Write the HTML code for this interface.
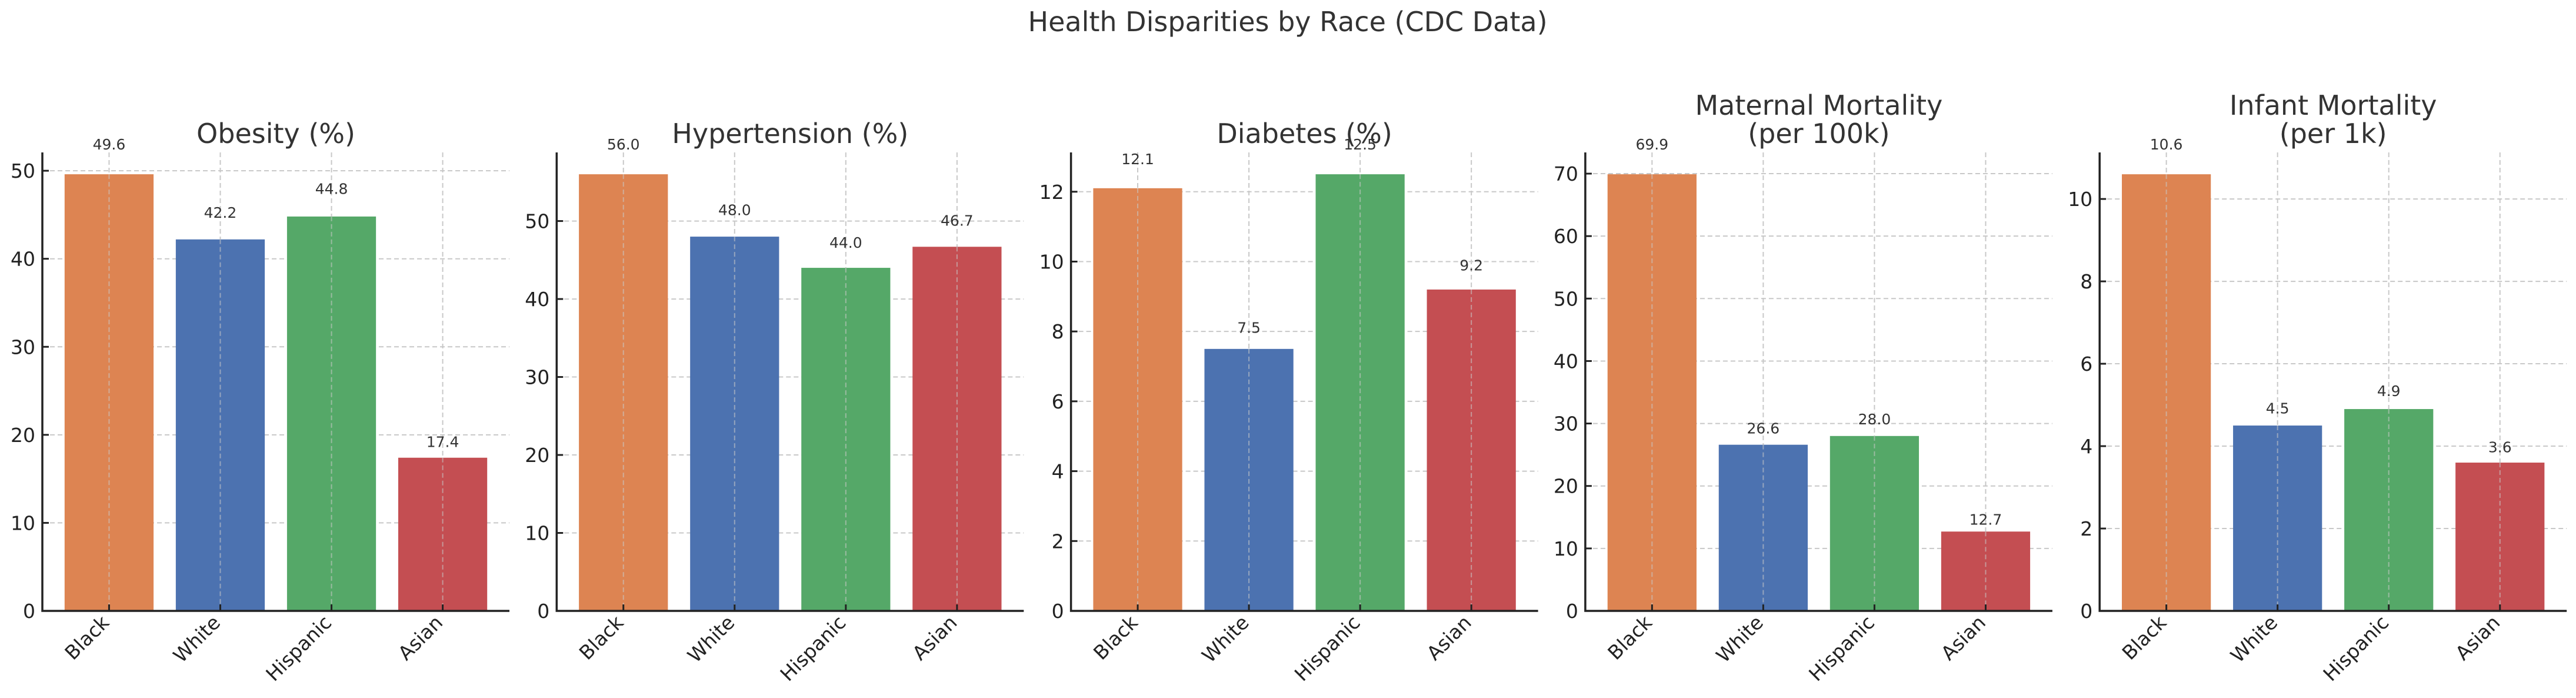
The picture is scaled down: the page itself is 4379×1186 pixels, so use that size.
<!DOCTYPE html>
<html><head><meta charset="utf-8"><style>
html,body{margin:0;padding:0;background:#fff}
svg{display:block;font-family:"DejaVu Sans","Liberation Sans",sans-serif}
</style></head><body>
<svg id="chart" width="4379" height="1186" viewBox="0 0 4379 1186" xmlns="http://www.w3.org/2000/svg">
<text x="2189" y="53" text-anchor="middle" font-size="46" fill="#333">Health Disparities by Race (CDC Data)</text>
<g id="panels"></g>
</svg>
<script>
const categories = ["Black","White","Hispanic","Asian"];
const obesity = [49.6,42.2,44.8,17.4];
const hypertension = [56.0,48.0,44.0,46.7];
const diabetes = [12.1,7.5,12.5,9.2];
const maternal = [69.9,26.6,28.0,12.7];
const infant = [10.6,4.5,4.9,3.6];
const titles = [["Obesity (%)"],["Hypertension (%)"],["Diabetes (%)"],["Maternal Mortality","(per 100k)"],["Infant Mortality","(per 1k)"]];
const tickSteps = [10,10,2,10,2];
const seriesList = [obesity,hypertension,diabetes,maternal,infant];
const colors = ["#DD8452","#4C72B0","#55A868","#C44E52"];
const NS="http://www.w3.org/2000/svg";
const root=document.getElementById('panels');
function mk(tag,attrs,parent){const e=document.createElementNS(NS,tag);for(const k in attrs)e.setAttribute(k,attrs[k]);parent.appendChild(e);return e;}
const plotTop=259, base=1038, pw=794, gap=874.3, left0=72;
seriesList.forEach(function(vals,p){
  const L=left0+p*gap, R=L+pw;
  const g=mk('g',{},root);
  
  
  const ymax=Math.max.apply(null,vals)*1.05;
  const y=function(v){return base-(v/ymax)*(base-plotTop);};
  const x=function(i){return L+(i+0.6)*pw/4.2;};
  const bw=0.8*pw/4.2;
  for(let t=0;t<=ymax;t+=tickSteps[p]){
    const ln=mk('line',{x1:L,x2:R,y1:y(t),y2:y(t),stroke:'#c8c8c8','stroke-width':2,'stroke-dasharray':'8,5'},g);
    
    
  }
  categories.forEach(function(c,i){
    const ln=mk('line',{x1:x(i),x2:x(i),y1:plotTop,y2:base,stroke:'#c8c8c8','stroke-width':2,'stroke-dasharray':'8,5'},g);
    
    
  });
  vals.forEach(function(v,i){
    const r=mk('rect',{x:x(i)-bw/2,y:y(v),width:bw,height:base-y(v),fill:colors[i]},g);
    
    
    const gl=mk('line',{x1:x(i),x2:x(i),y1:y(v),y2:base,stroke:'#c8c8c8','stroke-opacity':0.6,'stroke-width':2,'stroke-dasharray':'8,5'},g);
    
    
    const t=mk('text',{x:x(i),y:y(v*1.05)-5,'text-anchor':'middle','font-size':25,fill:'#333'},g);
    t.textContent=v.toFixed(1);
    
    
    const tk=mk('line',{x1:x(i),x2:x(i),y1:base,y2:base-11,stroke:'#222','stroke-width':3},g);
    
    
    const tr='translate('+(x(i)+2)+','+(base+22)+') rotate(-45)';
    const xl=mk('text',{x:0,y:0,'text-anchor':'end','font-size':33,fill:'#222',transform:tr},g);
    xl.textContent=categories[i];
    
    
  });
  for(let t=0;t<=ymax;t+=tickSteps[p]){
    const tk=mk('line',{x1:L,x2:L+11,y1:y(t),y2:y(t),stroke:'#222','stroke-width':3},g);
    
    
    const tl=mk('text',{x:L-12,y:y(t)+12,'text-anchor':'end','font-size':33,fill:'#222'},g);
    tl.textContent=String(t);
    
    
  }
  const dpath='M'+L+','+plotTop+' L'+L+','+base+' L'+R+','+base;
  const ax=mk('path',{d:dpath,stroke:'#222','stroke-width':3.5,fill:'none'},g);
  
  
  const lines=titles[p];
  lines.forEach(function(s,k){
    const tt=mk('text',{x:(L+R)/2,y:243-(lines.length-1-k)*48,'text-anchor':'middle','font-size':46,fill:'#333'},g);
    tt.textContent=s;
    
    
  });
});
</script>
</body></html>
